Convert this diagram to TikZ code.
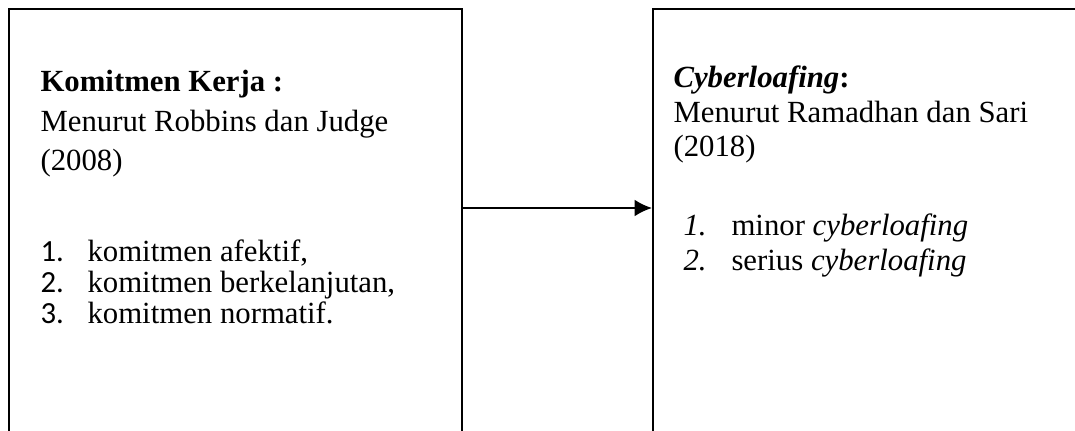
\documentclass[tikz,border=0pt]{standalone}
\usepackage{fontspec}
\setmainfont{Liberation Serif}
\newfontfamily\calibrifont{Carlito}
\usetikzlibrary{arrows.meta,positioning,fit}

\begin{document}
\begin{tikzpicture}[x=0.39pt,y=-0.39pt,
    kotak/.style={draw, line width=0.8pt, inner sep=0pt},
    teks/.style={anchor=base west, inner sep=0pt, font=\fontsize{12}{14}\selectfont}]
  \useasboundingbox (0,0) rectangle (1075,431);
  \clip (0,0) rectangle (1075,431);
  % the two boxes run off the bottom of the page
  \node[kotak, fit={(9,9) (462,600)}] (kiri) {};
  \node[kotak, fit={(653,9) (1100,600)}] (kanan) {};
  \coordinate (panah) at (0,208);
  \draw[-{Latex[length=6.8pt,width=6.6pt]}, line width=0.8pt] (kiri.east |- panah) -- (kanan.west |- panah);
  % left box
  \node[teks] (k1) at (40,92) {\textbf{Komitmen Kerja :}};
  \node[teks] (k2) at (40,132) {Menurut Robbins dan Judge};
  \node[teks] (k3) at (40,171) {(2008)};
  \node[teks] (n1) at (40,261) {\calibrifont 1.};
  \node[teks] (n2) at (40,292) {\calibrifont 2.};
  \node[teks] (n3) at (40,323) {\calibrifont 3.};
  \node[teks] (i1) at (87,261) {komitmen afektif,};
  \node[teks] (i2) at (87,292) {komitmen berkelanjutan,};
  \node[teks] (i3) at (87,323) {komitmen normatif.};
  % right box
  \node[teks] (c1) at (673,88) {\textbf{\textit{Cyberloafing}:}};
  \node[teks] (c2) at (673,123) {Menurut Ramadhan dan Sari};
  \node[teks] (c3) at (673,157) {(2018)};
  \node[teks] (m1) at (683,236) {\textit{1.}};
  \node[teks] (m2) at (683,270) {\textit{2.}};
  \node[teks] (j1) at (731,236) {minor \textit{cyberloafing}};
  \node[teks] (j2) at (731,270) {serius \textit{cyberloafing}};
\end{tikzpicture}
\end{document}
